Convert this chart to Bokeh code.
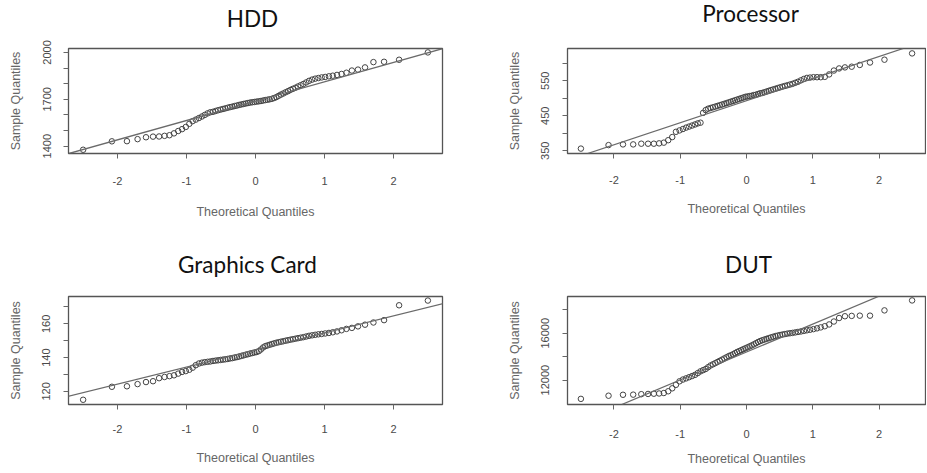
from bokeh.plotting import figure
from bokeh.models import FixedTicker, Slope, Label
from bokeh.layouts import column, row
from bokeh.embed import file_html
from bokeh.resources import INLINE

# ---------------- data ----------------
theoretical_q = [
    -2.498, -2.081, -1.863, -1.709, -1.587, -1.485, -1.397, -1.318, -1.247, -1.181,
    -1.120, -1.064, -1.010, -0.959, -0.911, -0.865, -0.820, -0.776, -0.735, -0.694,
    -0.655, -0.616, -0.579, -0.542, -0.506, -0.471, -0.437, -0.402, -0.368, -0.335,
    -0.302, -0.269, -0.237, -0.205, -0.174, -0.142, -0.110, -0.078, -0.047, -0.016,
    0.016, 0.047, 0.078, 0.110, 0.142, 0.174, 0.205, 0.237, 0.269, 0.302,
    0.335, 0.368, 0.402, 0.437, 0.471, 0.506, 0.542, 0.579, 0.616, 0.655,
    0.694, 0.735, 0.776, 0.820, 0.865, 0.911, 0.959, 1.010, 1.064, 1.120,
    1.181, 1.247, 1.318, 1.397, 1.485, 1.587, 1.709, 1.863, 2.081, 2.498,
]

hdd_sample = [
    1377, 1431, 1432, 1445, 1457, 1461, 1462, 1466, 1470, 1482,
    1497, 1509, 1523, 1543, 1560, 1570, 1580, 1590, 1600, 1610,
    1617, 1620, 1625, 1630, 1634, 1638, 1642, 1646, 1650, 1653,
    1657, 1660, 1664, 1667, 1670, 1673, 1676, 1679, 1681, 1683,
    1685, 1687, 1689, 1692, 1695, 1697, 1700, 1703, 1708, 1714,
    1722, 1730, 1737, 1745, 1752, 1760, 1767, 1774, 1782, 1790,
    1798, 1808, 1818, 1826, 1832, 1836, 1840, 1843, 1847, 1851,
    1856, 1862, 1870, 1884, 1890, 1904, 1938, 1940, 1953, 2000,
]
processor_sample = [
    356, 366, 368, 368, 370, 370, 370, 371, 373, 380,
    389, 404, 408, 412, 416, 419, 422, 425, 428, 430,
    458, 466, 470, 472, 474, 476, 478, 480, 482, 484,
    486, 488, 490, 492, 494, 496, 498, 500, 502, 504,
    505, 506, 507, 509, 510, 512, 514, 515, 517, 519,
    521, 523, 525, 527, 529, 531, 533, 535, 537, 539,
    541, 544, 547, 551, 555, 558, 559, 560, 560, 560,
    561, 568, 579, 585, 588, 590, 595, 602, 610, 628,
]
graphics_sample = [
    115.0, 122.7, 123.0, 124.3, 125.5, 126.0, 127.8, 128.5, 129.0, 129.5,
    130.5, 131.5, 132.0, 132.8, 134.0, 135.5, 136.5, 137.0, 137.3, 137.5,
    137.7, 138.0, 138.2, 138.4, 138.6, 138.8, 139.0, 139.2, 139.5, 139.7,
    140.0, 140.3, 140.6, 141.0, 141.3, 141.7, 142.0, 142.4, 142.7, 143.0,
    143.3, 143.8, 144.8, 146.0, 146.8, 147.2, 147.6, 148.0, 148.4, 148.8,
    149.1, 149.4, 149.7, 150.0, 150.3, 150.6, 150.9, 151.2, 151.5, 151.8,
    152.1, 152.5, 152.9, 153.2, 153.5, 153.8, 154.0, 154.3, 154.6, 155.0,
    155.5, 156.2, 157.0, 157.6, 158.5, 159.5, 160.8, 162.2, 171.0, 173.8,
]
dut_sample = [
    10400, 10670, 10750, 10760, 10800, 10820, 10840, 10860, 10900, 11050,
    11300, 11600, 11900, 12050, 12150, 12250, 12350, 12450, 12600, 12750,
    12850, 12950, 13100, 13250, 13350, 13450, 13550, 13650, 13750, 13850,
    13950, 14050, 14120, 14200, 14300, 14400, 14480, 14560, 14640, 14720,
    14800, 14880, 14960, 15050, 15150, 15250, 15330, 15400, 15460, 15520,
    15580, 15640, 15700, 15760, 15800, 15850, 15890, 15930, 15970, 16000,
    16030, 16070, 16110, 16150, 16200, 16250, 16300, 16350, 16420, 16500,
    16600, 16750, 17000, 17300, 17450, 17480, 17500, 17500, 17950, 18800,
]

# reference lines (qqline): intercept, slope
hdd_line = [1688, 124]
processor_line = [493, 63]
graphics_line = [144.5, 10.1]
dut_line = [14400, 2380]

# ticks
x_ticks = [-2, -1, 0, 1, 2]
x_tick_labels = ["-2", "-1", "0", "1", "2"]
hdd_ticks = [1400, 1500, 1600, 1700, 1800, 1900, 2000]
hdd_tick_labels = ["1400", "", "", "1700", "", "", "2000"]
processor_ticks = [350, 400, 450, 500, 550, 600]
processor_tick_labels = ["350", "", "450", "", "550", ""]
graphics_ticks = [120, 130, 140, 150, 160, 170]
graphics_tick_labels = ["120", "", "140", "", "160", ""]
dut_ticks = [12000, 14000, 16000, 18000]
dut_tick_labels = ["12000", "", "16000", ""]

titles = ["HDD", "Processor", "Graphics Card", "DUT"]

AX_FONT = "Liberation Sans"


def panel(title, sample, line, yrange, yticks, ylabels, xrange,
          width, height, left, right, top, bottom,
          t_dx, t_dy, xt_stand, xl_stand):
    p = figure(width=width, height=height, x_range=xrange, y_range=yrange,
               title=None, output_backend="svg", toolbar_location=None,
               min_border_left=left, min_border_right=right,
               min_border_top=top, min_border_bottom=bottom,
               background_fill_color="white", border_fill_color="white")

    p.xgrid.visible = False
    p.ygrid.visible = False
    p.outline_line_color = "#555555"
    p.outline_line_width = 1.3
    p.outline_line_alpha = 1.0

    for ax in p.axis:
        ax.axis_line_color = None
        ax.major_tick_out = 5
        ax.major_tick_in = 0
        ax.minor_tick_line_color = None
        ax.major_tick_line_color = "#666666"
        ax.major_label_text_font = AX_FONT
        ax.major_label_text_font_size = "11px"
        ax.major_label_text_color = "#4a4a4a"
        ax.axis_label_text_font = AX_FONT
        ax.axis_label_text_font_size = "12.5px"
        ax.axis_label_text_font_style = "normal"
        ax.axis_label_text_color = "#666666"

    p.xaxis.ticker = FixedTicker(ticks=x_ticks)
    p.xaxis.major_label_overrides = {t: s for t, s in zip(x_ticks, x_tick_labels)}
    p.xaxis.axis_label = "Theoretical Quantiles"
    p.xaxis.major_label_standoff = xt_stand
    p.xaxis.axis_label_standoff = xl_stand

    p.yaxis.ticker = FixedTicker(ticks=yticks)
    p.yaxis.major_label_overrides = {t: s for t, s in zip(yticks, ylabels)}
    p.yaxis.major_label_orientation = "vertical"
    p.yaxis.axis_label = "Sample Quantiles"
    p.yaxis.major_label_standoff = 13
    p.yaxis.axis_label_standoff = 17

    p.add_layout(Slope(gradient=line[1], y_intercept=line[0],
                       line_color="#6a6a6a", line_width=1.3))
    p.scatter(theoretical_q, sample, marker="circle", size=5.5,
              fill_color=None, line_color="#444444", line_width=1.0)

    # panel heading, placed in the top side panel just above the frame
    p.add_layout(Label(x=(xrange[0] + xrange[1]) / 2, y=t_dy,
                       x_units="data", y_units="screen",
                       x_offset=t_dx, text=title,
                       text_align="center", text_baseline="alphabetic",
                       text_font="Lato", text_font_size="22.5px",
                       text_color="#111111"), "above")
    return p


p1 = panel(titles[0], hdd_sample, hdd_line, (1353, 2025), hdd_ticks, hdd_tick_labels,
           (-2.71, 2.71), 500, 240, 68, 58, 48, 83, -3, 30, 18, 17)
p2 = panel(titles[1], processor_sample, processor_line, (342, 642), processor_ticks,
           processor_tick_labels, (-2.70, 2.70), 426, 240, 67, 1, 47, 87, 4, 35, 17, 15)
p3 = panel(titles[2], graphics_sample, graphics_line, (112.2, 176.2), graphics_ticks,
           graphics_tick_labels, (-2.71, 2.71), 500, 232, 68, 58, 54, 68, -8, 32, 15, 15)
p4 = panel(titles[3], dut_sample, dut_line, (9920, 19135), dut_ticks, dut_tick_labels,
           (-2.70, 2.70), 426, 232, 67, 1, 56, 62, 2, 32, 20, 11)

layout = column(row(p1, p2), row(p3, p4))

open("out.html", "w").write(file_html(layout, INLINE))
